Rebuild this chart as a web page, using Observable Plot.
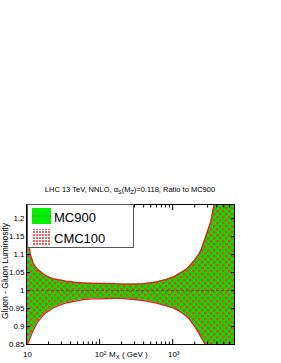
<!DOCTYPE html>
<html>
<head>
<meta charset="utf-8">
<script src="https://cdn.jsdelivr.net/npm/d3@7"></script>
<script src="https://cdn.jsdelivr.net/npm/@observablehq/plot@0.6"></script>
<style>
body { margin: 0; background: #fff; }
</style>
</head>
<body>
<div id="chart"></div>
<script>
// Data
const mass  = [10, 10.3, 11.3, 12.4, 14, 15.5, 17, 19, 21, 23, 27, 31, 36, 45, 60, 80, 100, 150, 200, 300, 400, 600, 800, 1000, 1300, 1500, 1700, 2000, 2300, 2500, 2800, 3300, 3700, 4500, 7000];
const upper = [1.17, 1.158, 1.10, 1.075, 1.06, 1.053, 1.046, 1.04, 1.036, 1.033, 1.03, 1.028, 1.025, 1.023, 1.021, 1.02, 1.02, 1.019, 1.018, 1.018, 1.019, 1.024, 1.03, 1.037, 1.05, 1.058, 1.068, 1.085, 1.102, 1.118, 1.147, 1.19, 1.24, 1.33, 1.6];
const lower = [0.845, 0.85, 0.87, 0.89, 0.91, 0.922, 0.932, 0.94, 0.946, 0.951, 0.957, 0.962, 0.966, 0.97, 0.975, 0.977, 0.977, 0.978, 0.978, 0.975, 0.972, 0.965, 0.958, 0.952, 0.94, 0.93, 0.92, 0.90, 0.88, 0.866, 0.85, 0.81, 0.78, 0.70, 0.5];
const central = [1];
const xMajor = [10, 100, 1000];
const xMajorLabels = ["10", "10²", "10³"];
const xMinor = [20, 30, 40, 50, 60, 70, 80, 90, 200, 300, 400, 500, 600, 700, 800, 900, 2000, 3000, 4000, 5000, 6000];
const yTicks = [0.85, 0.9, 0.95, 1, 1.05, 1.1, 1.15, 1.2];
const yTickLabels = ["0.85", "0.9", "0.95", "1", "1.05", "1.1", "1.15", "1.2"];
const seriesNames = ["MC900", "CMC100"];

const data = mass.map((m, i) => ({m, hi: upper[i], lo: lower[i]}));
const xLabelMap = new Map(xMajor.map((v, i) => [v, xMajorLabels[i]]));
const yLabelMap = new Map(yTicks.map((v, i) => [v, yTickLabels[i]]));
const noText = () => "";

const chart = Plot.plot({
  width: 281,
  height: 363,
  marginTop: 204,
  marginLeft: 26,
  marginRight: 47,
  marginBottom: 19,
  x: {type: "log", domain: [10, 7000]},
  y: {domain: [0.85, 1.239]},
  style: {fontFamily: "'Liberation Sans', Arial, sans-serif", fontSize: "8px", color: "#000", background: "#fff"},
  marks: [
    Plot.areaY(data, {x: "m", y1: "lo", y2: "hi", fill: "url(#chk)", clip: true}),
    Plot.lineY(data, {x: "m", y: "hi", stroke: "#e02020", strokeWidth: 1.3, clip: true}),
    Plot.lineY(data, {x: "m", y: "lo", stroke: "#e02020", strokeWidth: 1.3, clip: true}),
    Plot.ruleY(central, {stroke: "#7a2a10", strokeWidth: 0.8, strokeDasharray: "3,2"}),
    Plot.frame({stroke: "#000", strokeWidth: 1}),
    // bottom axis
    Plot.axisX(xMajor, {anchor: "bottom", tickSize: -5, tickFormat: noText, label: null}),
    Plot.axisX(xMinor, {anchor: "bottom", tickSize: -2.5, tickFormat: noText, label: null}),
    Plot.axisX(xMajor, {anchor: "bottom", tickSize: 0, tickPadding: 7, dx: 1, tickFormat: d => xLabelMap.get(d), label: null}),
    // top axis
    Plot.axisX(xMajor, {anchor: "top", tickSize: -5, tickFormat: noText, label: null}),
    Plot.axisX(xMinor, {anchor: "top", tickSize: -2.5, tickFormat: noText, label: null}),
    // left axis
    Plot.axisY(yTicks, {anchor: "left", tickSize: -4, tickFormat: noText, label: null}),
    Plot.axisY(yTicks, {anchor: "left", tickSize: 0, tickPadding: 2, tickFormat: d => yLabelMap.get(d), label: null}),
    // right axis
    Plot.axisY(yTicks, {anchor: "right", tickSize: -4, tickFormat: noText, label: null})
  ]
});

const svg = d3.select(chart);
const defs = svg.insert("defs", ":first-child");
const p = defs.append("pattern").attr("id", "chk").attr("width", 6).attr("height", 6).attr("patternUnits", "userSpaceOnUse");
p.append("rect").attr("width", 6).attr("height", 6).attr("fill", "#00e400");
p.append("rect").attr("width", 2.5).attr("height", 2.5).attr("fill", "#dc4a28");
p.append("rect").attr("x", 3).attr("y", 3).attr("width", 2.5).attr("height", 2.5).attr("fill", "#dc4a28");
const p2 = defs.append("pattern").attr("id", "chk2").attr("width", 3).attr("height", 3).attr("patternUnits", "userSpaceOnUse");
p2.append("rect").attr("width", 3).attr("height", 3).attr("fill", "#fff");
p2.append("rect").attr("width", 2).attr("height", 2).attr("fill", "#f06060");

const font = "'Liberation Sans', Arial, sans-serif";

// Title
const t = svg.append("text").attr("x", 130).attr("y", 192).attr("text-anchor", "middle")
  .attr("font-family", font).attr("font-size", 7.5).attr("fill", "#000");
t.append("tspan").text("LHC 13 TeV, NNLO, α");
t.append("tspan").attr("font-size", 5.5).attr("dy", 2).text("S");
t.append("tspan").attr("dy", -2).text("(M");
t.append("tspan").attr("font-size", 5.5).attr("dy", 2).text("Z");
t.append("tspan").attr("dy", -2).text(")=0.118, Ratio to MC900");

// Y label
svg.append("text").attr("transform", "translate(8,271) rotate(-90)").attr("text-anchor", "middle")
  .attr("font-family", font).attr("font-size", 8.5).attr("fill", "#000").text("Gluon - Gluon Luminosity");

// X label
const xl = svg.append("text").attr("x", 109).attr("y", 357).attr("text-anchor", "start")
  .attr("font-family", font).attr("font-size", 8).attr("fill", "#000");
xl.append("tspan").text("M");
xl.append("tspan").attr("font-size", 6).attr("dy", 2).text("X");
xl.append("tspan").attr("dy", -2).text(" ( GeV )");

// Legend
const lg = svg.append("g").attr("text-anchor", "start");
lg.append("rect").attr("x", 27.5).attr("y", 204.5).attr("width", 106).attr("height", 43)
  .attr("fill", "#fff").attr("stroke", "#555").attr("stroke-width", 1);
lg.append("rect").attr("x", 32).attr("y", 208).attr("width", 19).attr("height", 16).attr("fill", "#00f000");
lg.append("line").attr("x1", 32).attr("x2", 51).attr("y1", 216).attr("y2", 216)
  .attr("stroke", "#2a7a2a").attr("stroke-width", 0.8).attr("stroke-dasharray", "1.5,1.5");
lg.append("rect").attr("x", 32).attr("y", 229).attr("width", 19).attr("height", 16).attr("fill", "url(#chk2)");
lg.append("text").attr("x", 54).attr("y", 222).attr("font-family", font).attr("font-size", 13).attr("fill", "#000").text(seriesNames[0]);
lg.append("text").attr("x", 54).attr("y", 243).attr("font-family", font).attr("font-size", 13).attr("fill", "#000").text(seriesNames[1]);

document.getElementById("chart").appendChild(chart);
</script>
</body>
</html>
